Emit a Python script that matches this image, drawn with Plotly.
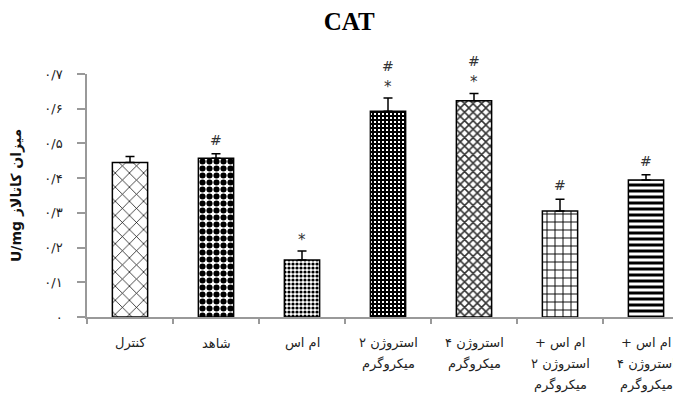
import plotly.graph_objects as go

categories = [
    "کنترل",
    "شاهد",
    "ام اس",
    "۲ استروژن<br>میکروگرم",
    "۴ استروژن<br>میکروگرم",
    "+ ام اس<br>۲ استروژن<br>میکروگرم",
    "+ ام اس<br>۴ استروژن<br>میکروگرم",
]
values = [0.445, 0.457, 0.164, 0.593, 0.623, 0.305, 0.395]
errors = [0.017, 0.013, 0.026, 0.038, 0.021, 0.034, 0.015]
sig_star = ["", "", "*", "*", "*", "", ""]
sig_hash = ["", "#", "", "#", "#", "#", "#"]

y_tickvals = [0, 0.1, 0.2, 0.3, 0.4, 0.5, 0.6, 0.7]
y_ticktext = ["۰", "۰/۱", "۰/۲", "۰/۳", "۰/۴", "۰/۵", "۰/۶", "۰/۷"]

# pattern style per bar (shape, size, solidity, fg, bg)
patterns = [
    dict(shape="x", size=10, solidity=0.14, fgcolor="black", bgcolor="white"),
    dict(shape=".", size=7, solidity=0.6, fgcolor="black", bgcolor="white"),
    dict(shape=".", size=4, solidity=0.5, fgcolor="black", bgcolor="white"),
    dict(shape="+", size=4, solidity=0.75, fgcolor="black", bgcolor="white"),
    dict(shape="x", size=6, solidity=0.45, fgcolor="#333333", bgcolor="white"),
    dict(shape="+", size=8, solidity=0.22, fgcolor="black", bgcolor="white"),
    dict(shape="-", size=6, solidity=0.5, fgcolor="black", bgcolor="white"),
]

fig = go.Figure()
for i, cat in enumerate(categories):
    p = patterns[i]
    fig.add_trace(go.Bar(
        x=[cat], y=[values[i]], width=0.41,
        marker=dict(
            color="white",
            line=dict(color="black", width=1.5),
            pattern=dict(shape=p["shape"], size=p["size"], solidity=p["solidity"],
                         fgcolor=p["fgcolor"], bgcolor=p["bgcolor"], fillmode="replace"),
        ),
        error_y=dict(type="data", array=[errors[i]], arrayminus=[0], symmetric=False,
                     color="black", thickness=1.5, width=4.5),
        showlegend=False,
    ))

annotations = []
for i, cat in enumerate(categories):
    top = values[i] + errors[i]
    if sig_star[i]:
        annotations.append(dict(x=cat, y=top, xref="x", yref="y", text=sig_star[i],
                                showarrow=False, yanchor="bottom", yshift=0,
                                font=dict(size=15, color="#333")))
    if sig_hash[i]:
        annotations.append(dict(x=cat, y=top, xref="x", yref="y", text=sig_hash[i],
                                showarrow=False, yanchor="bottom",
                                yshift=22 if sig_star[i] else 4,
                                font=dict(size=14, color="#333")))
    # category label, one annotation per line for the wider line spacing
    for k, line in enumerate(cat.split("<br>")):
        annotations.append(dict(x=cat, y=0, xref="x", yref="paper", text=line,
                                showarrow=False, yanchor="middle", xanchor="center",
                                yshift=-(26 + 21 * k),
                                font=dict(size=13, color="#222")))

fig.update_layout(
    width=673, height=399,
    margin=dict(l=79, r=0, t=66, b=90),
    paper_bgcolor="white", plot_bgcolor="white",
    font=dict(family="DejaVu Sans", size=12, color="#222"),
    title=dict(text="<b>CAT</b>", x=0.507, xref="container", xanchor="center",
               y=0.967, yref="container", yanchor="middle",
               font=dict(family="Liberation Serif", size=25, color="black")),
    annotations=annotations,
    xaxis=dict(
        type="category", range=[-0.5, 6.407],
        showline=True, linecolor="#999", linewidth=1.5,
        ticks="outside", tickson="boundaries", ticklen=5, tickcolor="#999", tickwidth=1.5,
        showgrid=False, showticklabels=False,
    ),
    yaxis=dict(
        range=[0, 0.7], tickvals=y_tickvals, ticktext=y_ticktext,
        showline=True, linecolor="#999", linewidth=1.5,
        ticks="outside", ticklen=8, tickcolor="#999", tickwidth=1.5,
        showgrid=False, zeroline=False, ticklabelstandoff=12,
        tickfont=dict(size=13, color="#222"),
        title=dict(text="<b>U/mg میزان کاتالاز</b>", standoff=21,
                   font=dict(size=14, color="#111")),
    ),
)

fig.write_html("out.html")
